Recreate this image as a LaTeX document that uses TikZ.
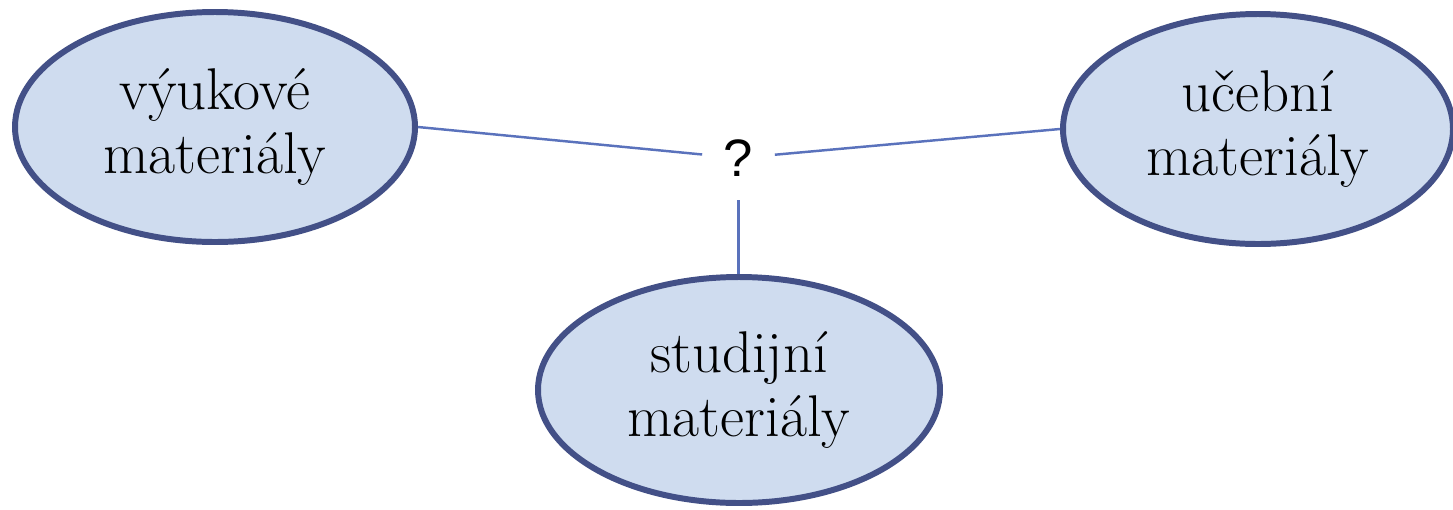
\documentclass[tikz,border=0pt]{standalone}
\usepackage{fontspec}
\usepackage{tikz}
\usetikzlibrary{shapes.geometric, positioning}
\newfontfamily\otazfont{Liberation Sans}
\definecolor{matfill}{HTML}{CFDCEF}
\definecolor{matdraw}{HTML}{435087}
\definecolor{spoj}{HTML}{5A72BC}
\tikzstyle{mat}=[ellipse,draw=matdraw,fill=matfill,line width=3.4pt,inner sep=0pt,align=center,font=\fontsize{33.5}{36}\selectfont]
\tikzstyle{otaz}=[rectangle,inner sep=0pt,minimum width=1.44cm,minimum height=1.68cm,font=\otazfont\fontsize{30}{36}\selectfont]
\tikzstyle{hrana}=[spoj,line width=1.4pt]

\begin{document}
\begin{tikzpicture}
    \fill[white] (0,0) rectangle (29.06,-10.18);
    \useasboundingbox (0,0) rectangle (29.06,-10.18);
    \node[mat,minimum width=8cm,minimum height=4.6cm] (vyuk) at (4.30,-2.54) {výukové\\materiály};
    \node[mat,minimum width=7.8cm,minimum height=4.6cm] (uceb) at (25.16,-2.58) {učební\\materiály};
    \node[mat,minimum width=8.04cm,minimum height=4.52cm] (stud) at (14.78,-7.8) {studijní\\materiály};
    \node[otaz] (q) at (14.77,-3.16) {?};
    \draw[hrana] (vyuk.east) -- (q);
    \draw[hrana] (q) -- (uceb.west);
    \draw[hrana] (q.south) -- (q.south |- stud.north);
\end{tikzpicture}
\end{document}
